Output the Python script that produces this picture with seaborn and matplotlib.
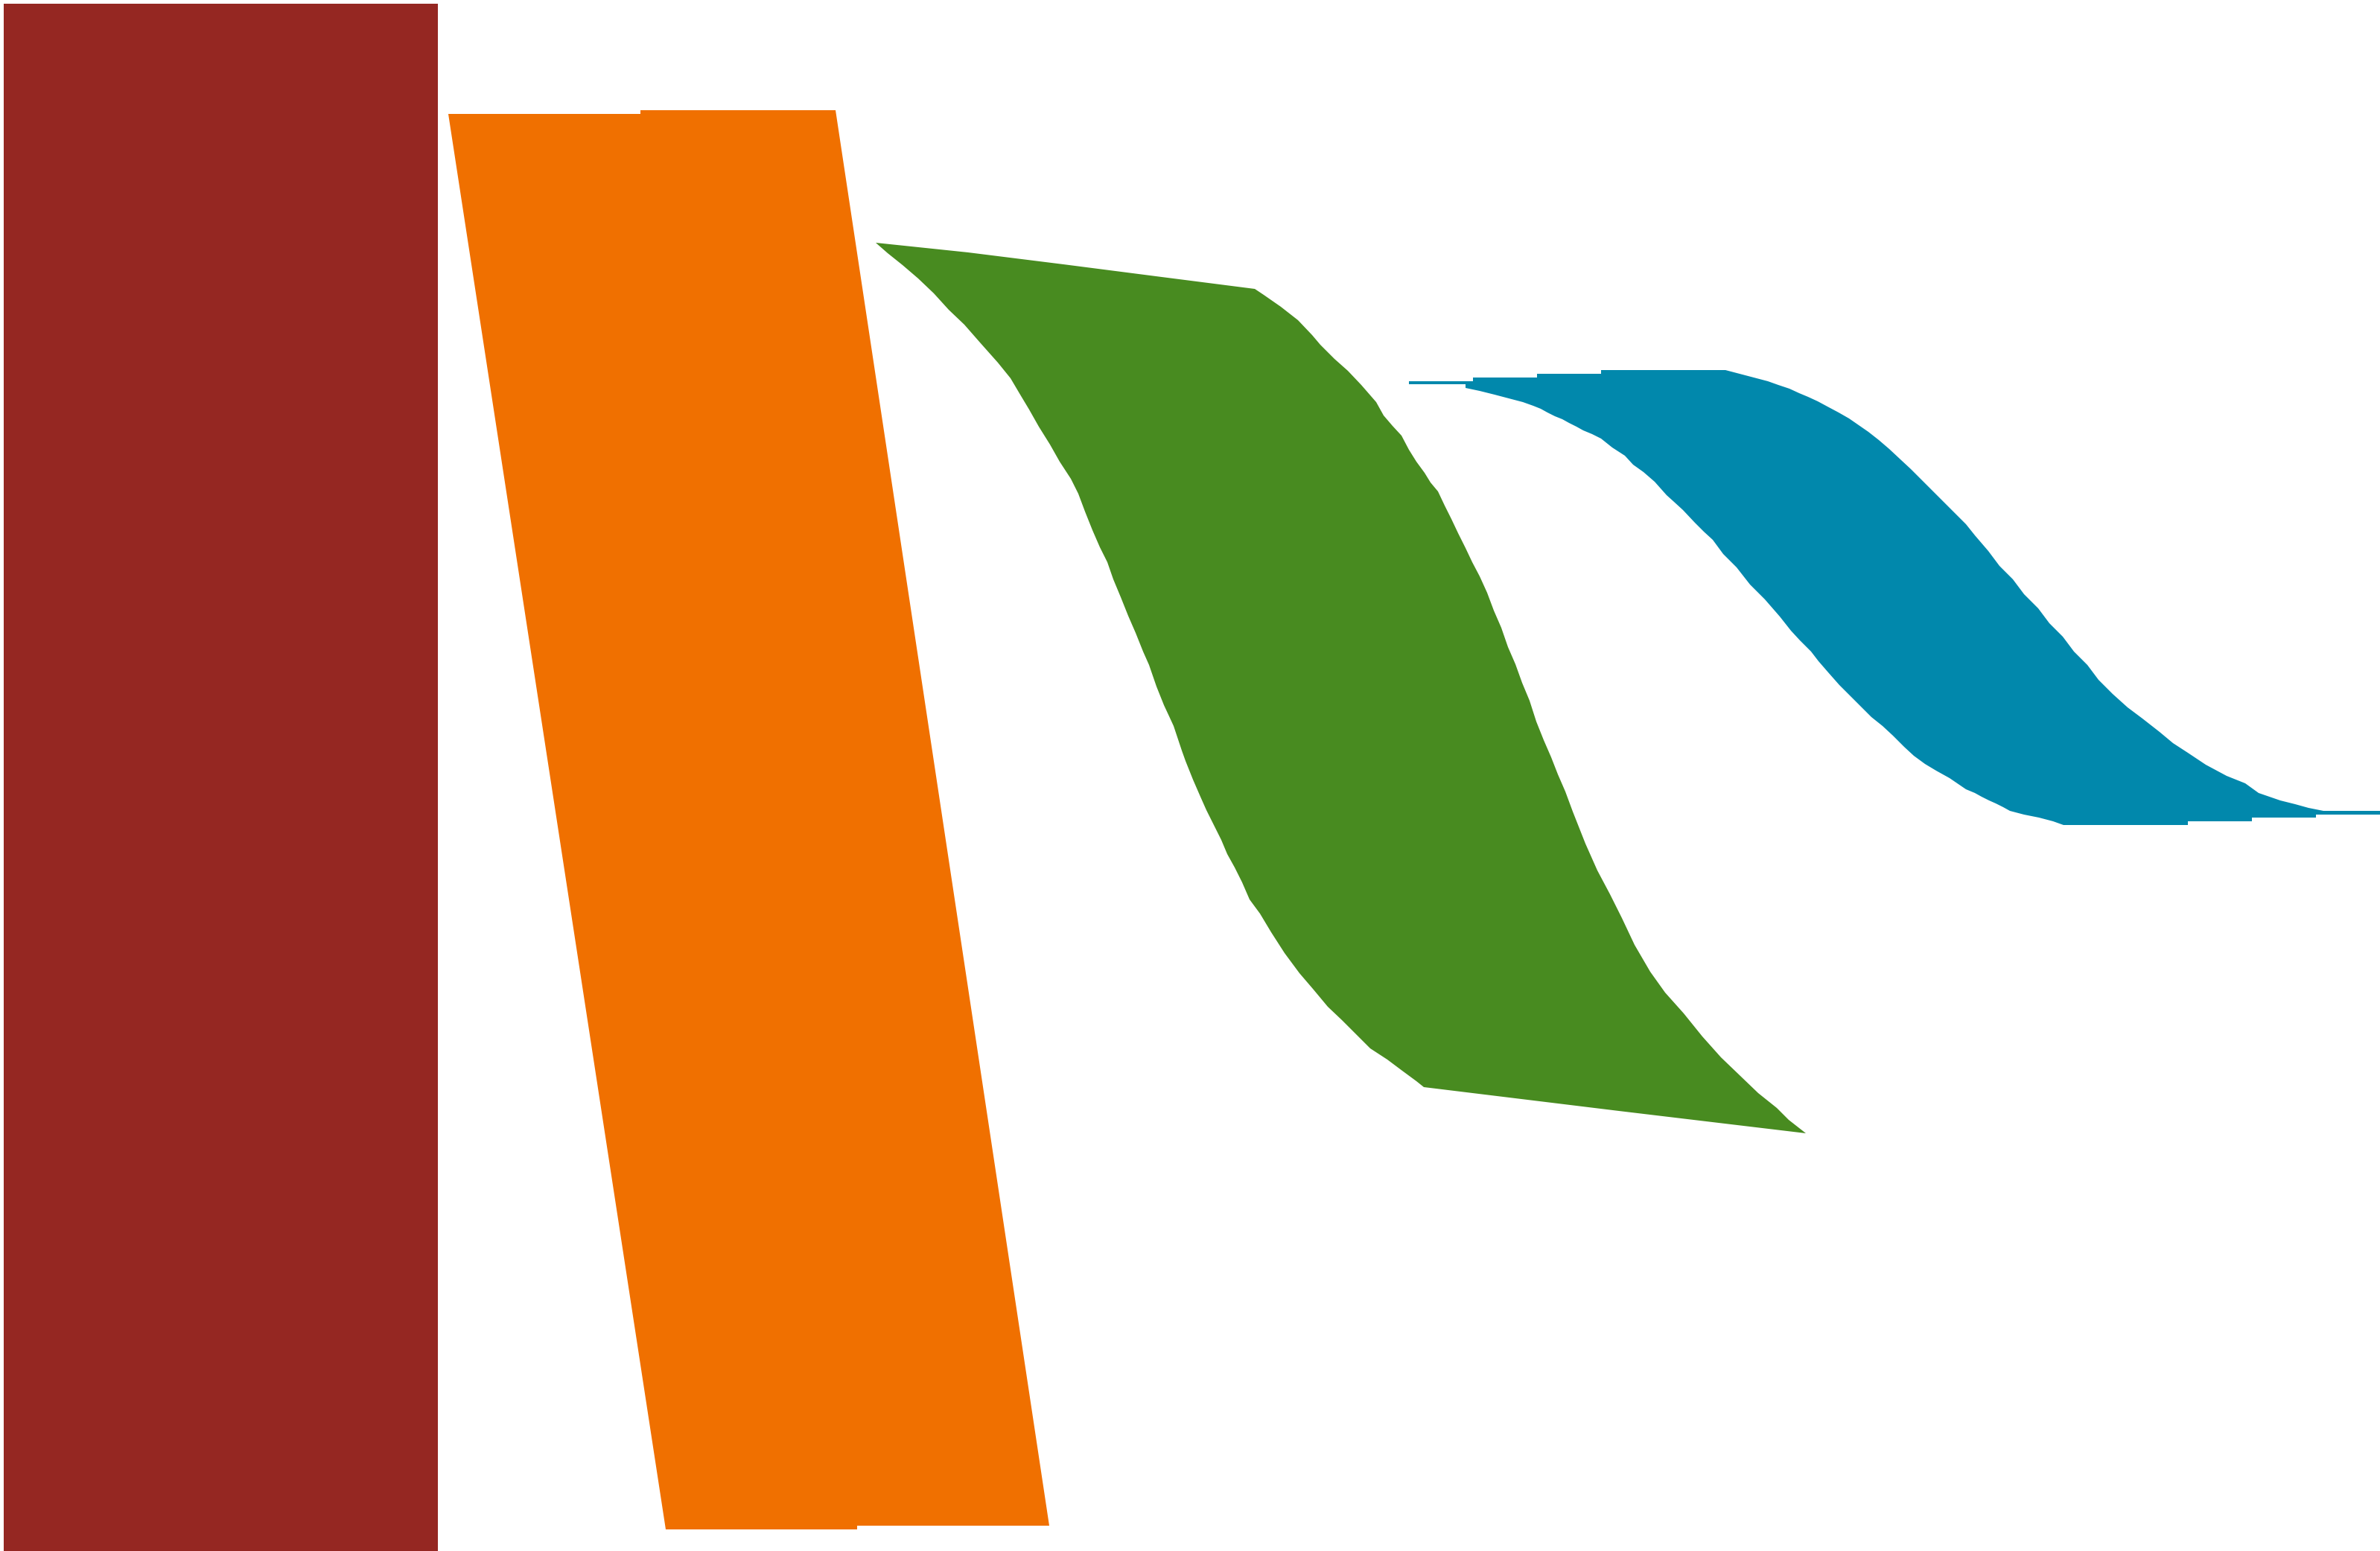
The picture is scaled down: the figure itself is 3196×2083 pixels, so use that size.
import matplotlib
matplotlib.use("Agg")
import matplotlib.pyplot as plt
import seaborn as sns

# outlines of the four bands (pixel units, y down)
red_x = [5, 588, 588, 5]
red_y = [5, 5, 2084, 2084]

orange_x = [602, 860, 860, 1122, 1409, 1151, 1151, 894]
orange_y = [153, 153, 148, 148, 2049, 2049, 2054, 2054]

# green: top edge, right edge, bottom edge, left edge (back up)
green_x = [1176, 1300, 1428, 1560, 1685,
           1697, 1720, 1743, 1762, 1773, 1792, 1810, 1828, 1848, 1858, 1870, 1882,
           1892, 1902, 1913, 1921, 1931, 1940, 1949, 1958, 1968, 1977, 1987, 1997,
           2006, 2016, 2025, 2035, 2044, 2054, 2063, 2073, 2083, 2092, 2102, 2112,
           2129, 2145, 2162, 2178, 2195, 2216, 2236, 2261, 2286, 2311, 2336, 2361,
           2386, 2402, 2425,
           2174, 1912,
           1902, 1883, 1863, 1840, 1822, 1802, 1783, 1763, 1745, 1725, 1707, 1692,
           1678, 1668, 1658, 1648, 1640, 1630, 1620, 1612, 1602, 1592, 1587, 1582,
           1576, 1570, 1563, 1553, 1543, 1535, 1525, 1515, 1505, 1495, 1487, 1477,
           1467, 1457, 1448, 1438, 1423, 1410, 1395, 1382, 1370, 1357, 1340, 1316,
           1295, 1274, 1254, 1233, 1212, 1192]
green_y = [326, 339, 355, 372, 388,
           396, 412, 430, 450, 463, 482, 498, 517, 540, 558, 572, 585,
           604, 620, 635, 648, 660, 679, 697, 716, 736, 755, 774, 796,
           820, 843, 869, 892, 917, 941, 969, 994, 1017, 1040, 1063, 1090,
           1133, 1169, 1201, 1233, 1269, 1305, 1333, 1361, 1392, 1420, 1444, 1468,
           1488, 1504, 1522,
           1492, 1460,
           1452, 1438, 1423, 1408, 1390, 1370, 1352, 1328, 1307, 1280, 1252, 1227,
           1208, 1185, 1165, 1147, 1128, 1108, 1088, 1070, 1047, 1022, 1008, 993,
           975, 962, 947, 922, 893, 875, 850, 827, 802, 778, 755, 735,
           712, 687, 663, 643, 620, 597, 573, 550, 530, 508, 487, 460,
           436, 416, 394, 374, 356, 340]

# blue: top edge, right edge, bottom edge, left edge (back up)
blue_x = [1892, 1978, 1978, 2064, 2064, 2150, 2150, 2317,
          2336, 2355, 2374, 2388, 2403, 2416, 2428, 2441, 2454, 2469, 2483, 2496,
          2509, 2523, 2537, 2552, 2566, 2580, 2595, 2610, 2625, 2640, 2652, 2670,
          2685, 2703, 2718, 2737, 2752, 2770, 2785, 2803, 2818, 2837, 2857, 2877,
          2900, 2918, 2938, 2962, 2990, 3015, 3033, 3062, 3082, 3100, 3120, 3196,
          3196, 3110, 3110, 3024, 3024, 2938, 2938, 2771,
          2757, 2738, 2718, 2699, 2690, 2680, 2671, 2661, 2652, 2640, 2618, 2600,
          2585, 2570, 2557, 2542, 2528, 2513, 2498, 2485, 2470, 2455, 2442, 2432,
          2417, 2405, 2390, 2370, 2350, 2332, 2314, 2300, 2288, 2276, 2260, 2248,
          2238, 2222, 2207, 2193, 2182, 2165, 2150, 2138, 2126, 2117, 2107, 2098,
          2088, 2078, 2069, 2059, 2045, 2026, 2007, 1987, 1968, 1968, 1892]
blue_y = [512, 512, 507, 507, 502, 502, 497, 497,
          502, 507, 512, 517, 522, 528, 533, 539, 546, 554, 562, 571,
          580, 591, 603, 617, 630, 644, 659, 674, 689, 704, 719, 740,
          760, 778, 798, 817, 837, 855, 875, 893, 913, 932, 950, 965,
          983, 998, 1011, 1027, 1042, 1052, 1065, 1075, 1080, 1085, 1089, 1089,
          1094, 1094, 1098, 1098, 1103, 1103, 1108, 1108,
          1103, 1098, 1094, 1089, 1084, 1079, 1075, 1070, 1065, 1060, 1045, 1035,
          1026, 1015, 1003, 988, 975, 963, 948, 935, 920, 903, 888, 875,
          860, 847, 828, 805, 785, 762, 744, 725, 714, 702, 685, 674,
          665, 647, 634, 624, 612, 601, 589, 583, 578, 573, 568, 563,
          559, 554, 549, 545, 540, 535, 530, 525, 521, 516, 516]

# style
colors = {"red": "#952722", "orange": "#F07000", "green": "#488B20", "blue": "#0188AC"}

sns.set_theme(style="white")

fig = plt.figure(figsize=(31.96, 20.83), dpi=100)
ax = fig.add_axes([0, 0, 1, 1])

ax.fill(red_x, red_y, color=colors["red"], lw=0)
ax.fill(orange_x, orange_y, color=colors["orange"], lw=0)
ax.fill(green_x, green_y, color=colors["green"], lw=0)
ax.fill(blue_x, blue_y, color=colors["blue"], lw=0)

ax.set_xlim(0, 3196)
ax.set_ylim(2083, 0)
ax.axis("off")
sns.despine(left=True, bottom=True)

plt.savefig("out.png", dpi=100)
plt.close()
